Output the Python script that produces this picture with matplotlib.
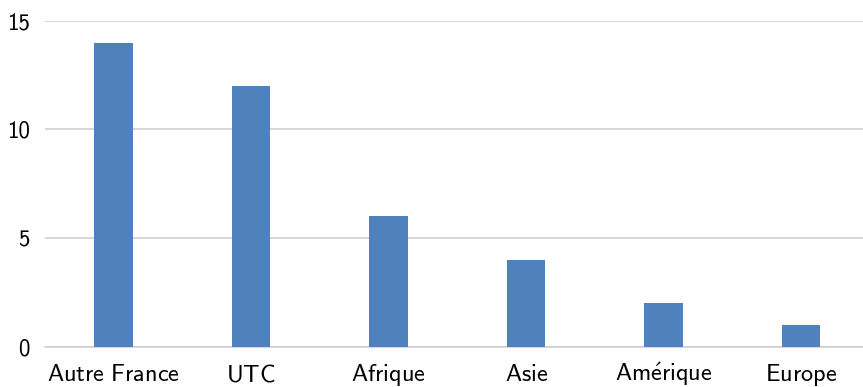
import numpy as np
import matplotlib
matplotlib.use('Agg')
import matplotlib.pyplot as plt

regions = ['Autre France', 'UTC', 'Afrique', 'Asie', 'Amérique', 'Europe']
counts = [14, 12, 6, 4, 2, 1]
yticks = [0, 5, 10, 15]

plt.rcParams['font.family'] = ['cmss10', 'DejaVu Sans']
plt.rcParams['mathtext.fontset'] = 'cm'
plt.rcParams['axes.unicode_minus'] = False


def sans(name):
    # cmss10 has no é, so go through mathtext for every label
    return r'$\mathsf{' + name.replace(' ', r'\ ').replace('é', r'\acute{e}') + '}$'


fig = plt.figure(figsize=(8.63, 3.87), dpi=100)
ax = fig.add_axes([45 / 863, 40.5 / 387, 1 - 45 / 863, (346.3 - 20.7) / 387])

x = np.arange(len(regions))
ax.bar(x, counts, width=0.28, color='#4F81BD', zorder=3)

ax.set_xlim(-0.5, 5.45)
ax.set_ylim(0, 15)
ax.set_yticks(yticks)
ax.set_xticks(x)
ax.set_xticklabels([sans(r) for r in regions])
for t in ax.get_xticklabels():
    t.set_verticalalignment('baseline')
ax.grid(axis='y', color='#D0D0D0', linewidth=1.2, zorder=0)
for s in ['top', 'right', 'left']:
    ax.spines[s].set_visible(False)
ax.spines['bottom'].set_color('#D0D0D0')
ax.spines['bottom'].set_linewidth(1.2)
ax.tick_params(length=0, colors='black')
ax.tick_params(axis='y', pad=11, labelsize=16.5)
ax.tick_params(axis='x', pad=25, labelsize=17.5)

plt.savefig('out.png', dpi=100)
